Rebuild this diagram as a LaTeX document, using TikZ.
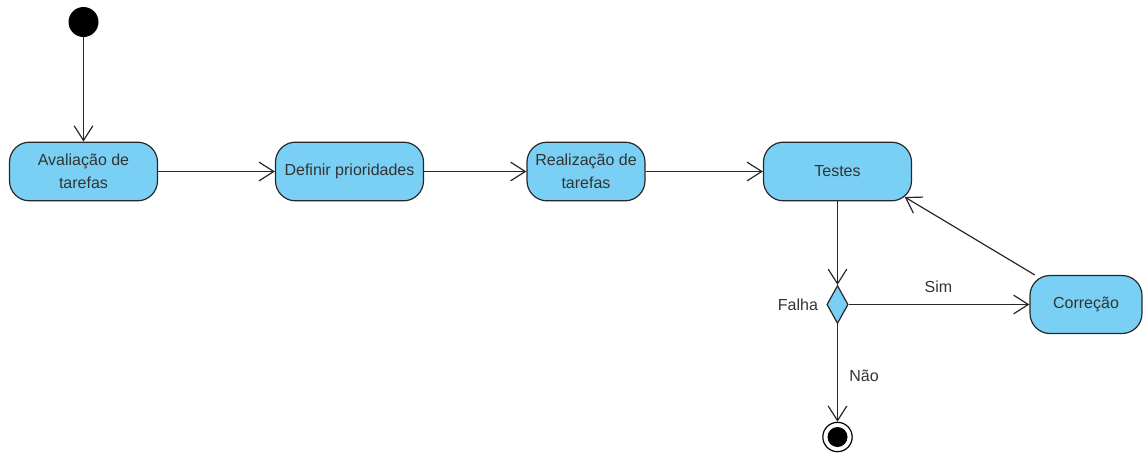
\documentclass[tikz,border=0pt]{standalone}
\usepackage{fontspec}
\setmainfont{Liberation Sans}
\usepackage{tikz}
\usetikzlibrary{positioning, arrows.meta, shapes.geometric}
\definecolor{actfill}{RGB}{122,207,245}
\definecolor{linecol}{RGB}{40,40,40}
\newcommand{\actcolor}{actfill}

\begin{document}
\begin{tikzpicture}[
      % GLOBAL CFG
      x=0.75pt, y=-0.75pt,
      font=\fontsize{12}{17}\selectfont,
      >={Straight Barb[length=11pt,width=14pt]},
      % Styles
      act/.style={% For actions
        rectangle,
        rounded corners=15pt,
        draw=linecol,
        line width=0.9pt,
        fill=\actcolor,
        text=black!80,
        align=center,
        inner sep=2pt,
        minimum height=44pt,
        minimum width=111pt
      },
      decision/.style={% For the decision
        diamond,
        draw=linecol,
        line width=0.9pt,
        fill=\actcolor,
        inner sep=0pt,
        minimum width=16pt,
        minimum height=28.5pt
      },
      startdot/.style={% Initial node
        circle,
        fill=black,
        inner sep=0pt,
        minimum size=22.5pt
      },
      endring/.style={% Final node
        circle,
        draw=black,
        line width=0.9pt,
        fill=white,
        inner sep=0pt,
        minimum size=22pt
      },
      guard/.style={% Labels on the flows
        text=black!80,
        inner sep=1pt
      },
      arrowfunction/.style={% Arrows for the flows
        draw=linecol,
        line width=0.9pt,
        ->,
      }
      ]

      \useasboundingbox (0,0) rectangle (1143,454);

      % Draw the nodes:
      \node [startdot] (start) at (83.5,22){} ;

      \node [act] (avalia) at (83.5,171.5){Avaliação de\\tarefas} ;
      \node [act] (prior) at (349.5,171.5){Definir prioridades} ;
      \node [act, minimum width=88.5pt] (realiza) at (586,171.5){Realização de\\tarefas} ;
      \node [act] (testes) at (837.5,171.5){Testes} ;

      \node [decision] (falha) at (837.5,304.5){} ;
      \node [act, minimum width=84pt, minimum height=43.5pt] (correcao) at (1086,304.5){Correção} ;

      \node [endring] (final) at (837.5,437){} ;
      \node [startdot, minimum size=15pt] (finaldot) at (final){} ;

      % Labels
      \node [guard, left=5pt of falha] (lblfalha) {Falha} ;
      \node [guard] (lblsim) at (938.5,287){Sim} ;
      \node [guard] (lblnao) at (864,376){Não} ;

      % Flows
      \draw [arrowfunction] (start) -- (avalia);
      \draw [arrowfunction] (avalia) -- (prior);
      \draw [arrowfunction] (prior) -- (realiza);
      \draw [arrowfunction] (realiza) -- (testes);
      \draw [arrowfunction] (testes) -- (falha);
      \draw [arrowfunction] (falha) -- (correcao);
      \draw [arrowfunction] (falha) -- (final);
      \draw [arrowfunction, shorten >=-6.5pt] (correcao.150) -- (testes.south east);
    \end{tikzpicture}
\end{document}
